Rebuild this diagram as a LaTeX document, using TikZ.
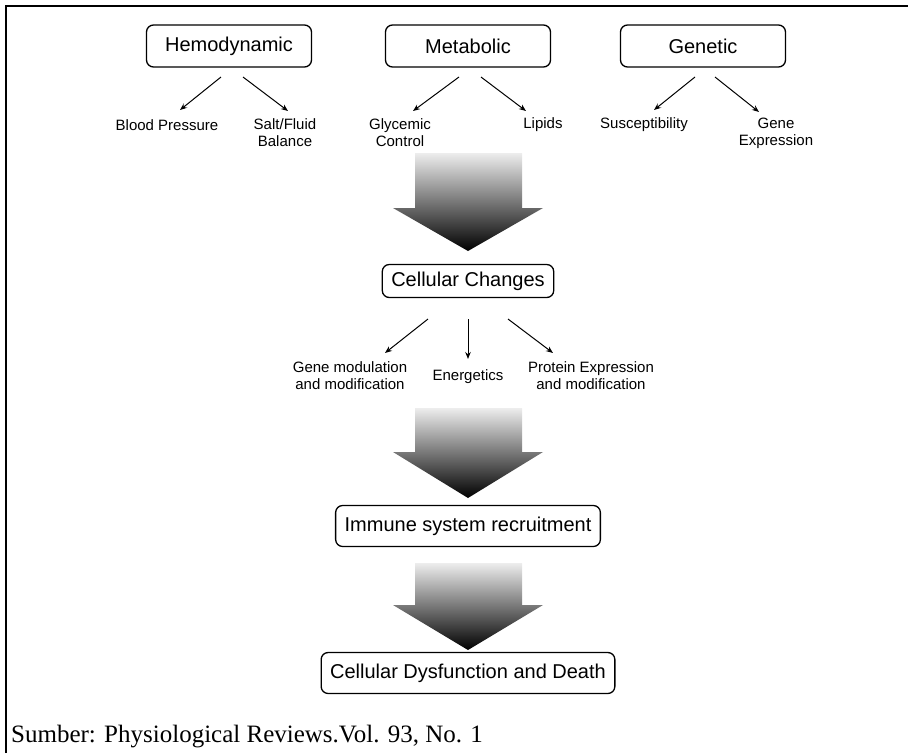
\documentclass[tikz,border=0pt]{standalone}
\usepackage{fontspec}
\setmainfont{Liberation Serif}
\newfontfamily\arialf{Liberation Sans}
\usetikzlibrary{arrows.meta}
\begin{document}
\begin{tikzpicture}[x=1pt,y=-1pt,
  bigbox/.style={draw, rounded corners=7pt, line width=1.3pt, font=\arialf\fontsize{20}{23}\selectfont, inner xsep=9pt, inner ysep=0pt},
  topbox/.style={bigbox, minimum width=165pt, minimum height=42pt},
  lowbox/.style={bigbox, minimum height=41pt},
  lbl/.style={font=\arialf\fontsize{15}{17}\selectfont, align=center, inner sep=0pt},
  thinarrow/.style={-{Stealth[length=7pt,width=5.5pt]}, line width=1pt},
  bigarrow/.style={top color=black!7, bottom color=black, draw=none}]
\useasboundingbox (0,0) rectangle (908,753);
% frame
\draw[line width=2.2pt] (6,753) -- (6,6) -- (908,6);
% top boxes
\node[topbox] (hemo) at (229,46) {Hemodynamic};
\node[topbox] (meta) at (468,46) {Metabolic};
\node[topbox] (gene) at (703,46) {Genetic};
% top labels
\node[lbl] (bp)  at (167,125) {Blood Pressure};
\node[lbl] (sfb) at (285,133) {Salt/Fluid\\Balance};
\node[lbl] (gc)  at (400,133) {Glycemic\\Control};
\node[lbl] (lip) at (543,125) {Lipids};
\node[lbl] (sus) at (644,125) {Susceptibility};
\node[lbl] (ge)  at (776,133) {Gene\\Expression};
% arrow coordinates
\coordinate (h1s) at (221,77); \coordinate (h1e) at (180,110);
\coordinate (h2s) at (243,77); \coordinate (h2e) at (288,111);
\coordinate (m1s) at (459,77); \coordinate (m1e) at (413,111);
\coordinate (m2s) at (481,77); \coordinate (m2e) at (526,111);
\coordinate (g1s) at (695,77); \coordinate (g1e) at (654,110);
\coordinate (g2s) at (715,77); \coordinate (g2e) at (759,112);
\draw[thinarrow] (h1s) -- (h1e);
\draw[thinarrow] (h2s) -- (h2e);
\draw[thinarrow] (m1s) -- (m1e);
\draw[thinarrow] (m2s) -- (m2e);
\draw[thinarrow] (g1s) -- (g1e);
\draw[thinarrow] (g2s) -- (g2e);
% big arrow 1
\shade[bigarrow] (415,153) -- (522,153) -- (522,208) -- (543,208) -- (468,251) -- (393,208) -- (415,208) -- cycle;
% cellular changes
\node[bigbox, minimum height=33pt] (cc) at (468,281) {Cellular Changes};
\node[lbl] (gm) at (350,376) {Gene modulation\\and modification};
\node[lbl] (en) at (468,377) {Energetics};
\node[lbl] (pe) at (591,376) {Protein Expression\\and modification};
\coordinate (c1s) at (428,319); \coordinate (c1e) at (385,353);
\coordinate (c2s) at (468,319); \coordinate (c2e) at (468,359);
\coordinate (c3s) at (508,319); \coordinate (c3e) at (553,353);
\draw[thinarrow] (c1s) -- (c1e);
\draw[thinarrow] (c2s) -- (c2e);
\draw[thinarrow] (c3s) -- (c3e);
% big arrow 2
\shade[bigarrow] (415,408) -- (522,408) -- (522,452) -- (543,452) -- (468,498) -- (393,452) -- (415,452) -- cycle;
\node[lowbox] (imm) at (468,526) {Immune system recruitment};
% big arrow 3
\shade[bigarrow] (415,563) -- (522,563) -- (522,605) -- (543,605) -- (468,650) -- (393,605) -- (415,605) -- cycle;
\node[lowbox] (dys) at (468,673) {Cellular Dysfunction and Death};
% source
\node[anchor=base west, inner sep=0pt, font=\fontsize{25}{29}\selectfont] (src) at (11,742) {Sumber: Physiological Reviews.Vol. 93, No. 1};
\end{tikzpicture}
\end{document}
